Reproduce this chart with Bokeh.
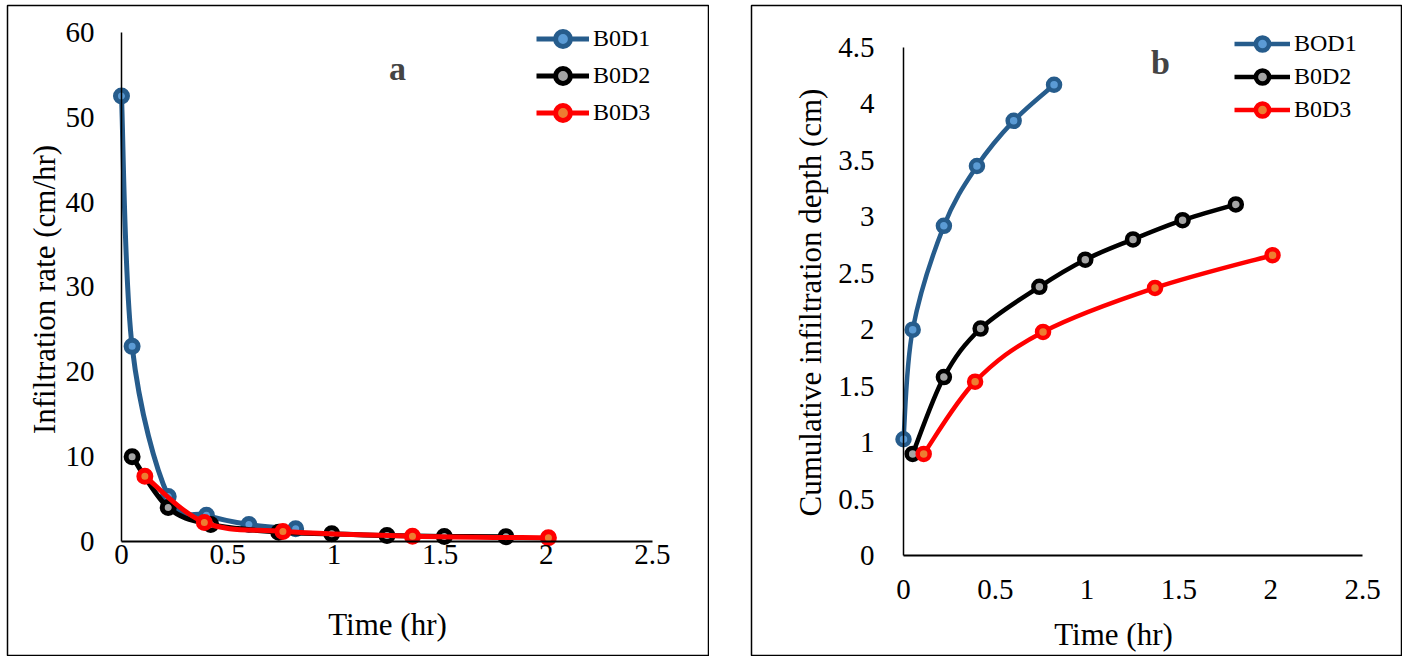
import math
import numpy as np
from bokeh.plotting import figure
from bokeh.models import (Range1d, LinearAxis, FixedTicker, Legend, LegendItem,
                          Label, Spacer)
from bokeh.layouts import row, column
from bokeh.embed import file_html
from bokeh.resources import INLINE

# ---------------- data ----------------
series_names_a = ["B0D1", "B0D2", "B0D3"]
series_names_b = ["BOD1", "B0D2", "B0D3"]

t1 = [0.0, 0.05, 0.22, 0.40, 0.60, 0.82]
rate1 = [52.5, 23.0, 5.3, 3.1, 2.0, 1.5]
cum1 = [1.03, 2.0, 2.92, 3.45, 3.85, 4.17]

t2 = [0.05, 0.22, 0.42, 0.74, 0.99, 1.25, 1.52, 1.81]
rate2 = [10.0, 4.0, 2.0, 1.1, 0.92, 0.7, 0.6, 0.57]
cum2 = [0.90, 1.58, 2.01, 2.38, 2.62, 2.80, 2.97, 3.11]

t3 = [0.11, 0.39, 0.76, 1.37, 2.01]
rate3 = [7.7, 2.25, 1.18, 0.63, 0.43]
cum3 = [0.90, 1.54, 1.98, 2.37, 2.66]

x_ticks = [0, 0.5, 1, 1.5, 2, 2.5]
x_tick_labels = ["0", "0.5", "1", "1.5", "2", "2.5"]
ya_ticks = [0, 10, 20, 30, 40, 50, 60]
ya_tick_labels = ["0", "10", "20", "30", "40", "50", "60"]
yb_ticks = [0, 0.5, 1, 1.5, 2, 2.5, 3, 3.5, 4, 4.5]
yb_tick_labels = ["0", "0.5", "1", "1.5", "2", "2.5", "3", "3.5", "4", "4.5"]

line_colors = ["#265C8C", "#000000", "#FF0000"]
marker_fills = ["#5B9BD5", "#A5A5A5", "#ED7D31"]

FONT = "Liberation Serif"


def smooth_controls(xs, ys):
    """Excel-like smoothed line: cubic Bezier segments (Catmull-Rom tangents)."""
    x = np.asarray(xs, float)
    y = np.asarray(ys, float)
    n = len(x)
    xp = np.concatenate([[x[0]], x, [x[-1]]])
    yp = np.concatenate([[y[0]], y, [y[-1]]])
    x0, y0, x1, y1 = x[:-1], y[:-1], x[1:], y[1:]
    cx0 = x0 + (xp[2:n + 1] - xp[0:n - 1]) / 6.0
    cy0 = y0 + (yp[2:n + 1] - yp[0:n - 1]) / 6.0
    cx1 = x1 - (xp[3:n + 2] - xp[1:n]) / 6.0
    cy1 = y1 - (yp[3:n + 2] - yp[1:n]) / 6.0
    return dict(x0=x0, y0=y0, x1=x1, y1=y1, cx0=cx0, cy0=cy0, cx1=cx1, cy1=cy1)


def make_panel(width, xr, yr, yticks, yticklabels, x_standoff, y_standoff,
               ydata, names, lw, msize, legend_loc, glyph_w, glyph_h, legend_font):
    p = figure(width=width, height=652, x_range=Range1d(*xr), y_range=Range1d(*yr),
               output_backend="svg", toolbar_location=None,
               x_axis_type=None, y_axis_type=None, min_border=1)
    p.outline_line_color = "black"
    p.outline_line_width = 1.5
    p.background_fill_color = "white"
    p.border_fill_color = "white"

    xaxis = LinearAxis(fixed_location=0, bounds=(0, 2.5),
                       ticker=FixedTicker(ticks=x_ticks),
                       major_label_overrides={v: s for v, s in zip(x_ticks, x_tick_labels)})
    yaxis = LinearAxis(fixed_location=0, bounds=(yticks[0], yticks[-1]),
                       ticker=FixedTicker(ticks=yticks),
                       major_label_overrides={v: s for v, s in zip(yticks, yticklabels)})
    for ax, sw in ((xaxis, 2), (yaxis, 1.5)):
        ax.axis_line_color = "black"
        ax.axis_line_width = sw
        ax.major_tick_line_color = None
        ax.minor_tick_line_color = None
        ax.major_tick_out = 0
        ax.major_tick_in = 0
        ax.major_label_text_font = FONT
        ax.major_label_text_font_size = "29px"
        ax.major_label_text_color = "black"
    xaxis.major_label_standoff = x_standoff
    yaxis.major_label_standoff = y_standoff
    p.add_layout(xaxis, "below")
    p.add_layout(yaxis, "left")

    items = []
    for ts, ys, name, lc, mf in zip((t1, t2, t3), ydata, names, line_colors, marker_fills):
        r_line = p.bezier(line_color=lc, line_width=lw, **smooth_controls(ts, ys))
        r_pts = p.scatter(ts, ys, size=msize, fill_color=mf, line_color=lc, line_width=lw)
        items.append(LegendItem(label=name, renderers=[r_line, r_pts]))

    leg = Legend(items=items, location=legend_loc, orientation="vertical",
                 border_line_color=None, background_fill_alpha=0, padding=0, margin=0,
                 spacing=0, glyph_width=glyph_w, glyph_height=glyph_h, label_height=glyph_h,
                 label_standoff=4, label_text_font=FONT, label_text_font_size=legend_font,
                 label_text_color="black", label_text_baseline="middle")
    p.add_layout(leg, "center")
    return p


pa = make_panel(703, (-0.5367, 2.7637), (-13.438, 63.18), ya_ticks, ya_tick_labels,
                4, 27, (rate1, rate2, rate3), series_names_a, 5, 12, (529, 524.5), 53, 37, "24px")
pa.add_layout(Label(x=1.2524, y=-9.78, text="Time (hr)", text_font=FONT, text_font_size="31px",
                    text_align="center", text_baseline="middle", text_color="black"))
pa.add_layout(Label(x=-0.3625, y=29.71, text="Infiltration rate (cm/hr)", text_font=FONT,
                    text_font_size="31px", angle=math.pi / 2, text_align="center",
                    text_baseline="middle", text_color="black"))
pa.add_layout(Label(x=1.2994, y=55.7, text="a", text_font=FONT, text_font_size="34px",
                    text_font_style="bold", text_align="center", text_baseline="middle"))

pb = make_panel(652, (-0.8279, 2.7124), (-0.8858, 4.8716), yb_ticks, yb_tick_labels,
                25, 29, (cum1, cum2, cum3), series_names_b, 4.5, 12, (483, 529.5), 56, 33, "24px")
pb.add_layout(Label(x=1.1438, y=-0.70, text="Time (hr)", text_font=FONT, text_font_size="31px",
                    text_align="center", text_baseline="middle", text_color="black"))
pb.add_layout(Label(x=-0.5065, y=2.241, text="Cumulative infiltration depth (cm)", text_font=FONT,
                    text_font_size="31px", angle=math.pi / 2, text_align="center",
                    text_baseline="middle", text_color="black"))
pb.add_layout(Label(x=1.3998, y=4.367, text="b", text_font=FONT, text_font_size="34px",
                    text_font_style="bold", text_align="center", text_baseline="middle"))

layout = column(Spacer(height=4),
                row(Spacer(width=6), pa, Spacer(width=41), pb, spacing=0),
                spacing=0)

open("out.html", "w").write(file_html(layout, INLINE))
